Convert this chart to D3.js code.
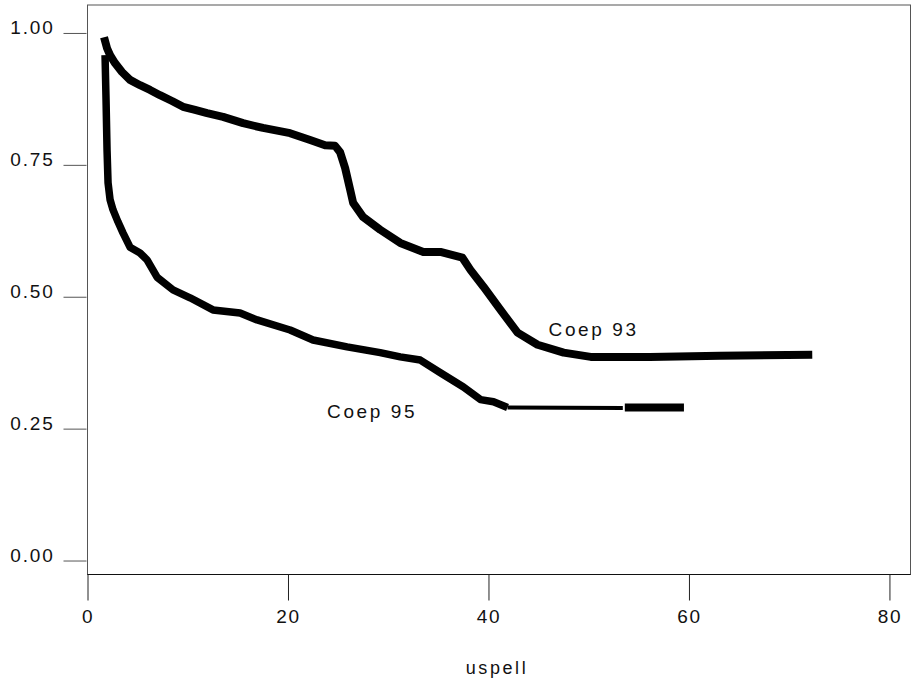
<!DOCTYPE html>
<html>
<head>
<meta charset="utf-8">
<script src="https://cdn.jsdelivr.net/npm/d3@7"></script>
<style>
  body { margin: 0; background: #fff; }
  svg text { font-family: "Liberation Sans", Arial, sans-serif; fill: #111; }
</style>
</head>
<body>
<div id="chart"></div>
<script>
// survival curves: [uspell, share]
const coep93 = [
  [1.65, 0.992], [1.95, 0.971], [2.25, 0.958], [2.74, 0.943], [3.44, 0.926],
  [4.24, 0.911], [5.24, 0.901], [6.24, 0.892], [7.23, 0.882], [8.43, 0.871],
  [9.53, 0.860], [10.73, 0.854], [11.93, 0.848], [13.52, 0.841], [15.52, 0.829],
  [17.51, 0.820], [20.21, 0.810], [22.21, 0.797], [23.7, 0.787], [24.7, 0.786],
  [25.2, 0.774], [25.7, 0.744], [26.2, 0.703], [26.5, 0.678], [27.5, 0.651],
  [29.2, 0.627], [31.2, 0.602], [33.5, 0.585], [35.2, 0.585], [37.4, 0.574],
  [38.2, 0.551], [39.5, 0.519], [41.2, 0.475], [42.9, 0.432], [44.9, 0.409],
  [47.5, 0.394], [50.2, 0.386], [56.1, 0.386], [63.1, 0.388], [72.3, 0.390]
];
const coep95 = [
  [1.75, 0.958], [1.85, 0.873], [1.95, 0.778], [2.05, 0.716], [2.25, 0.684],
  [2.54, 0.665], [3.04, 0.642], [3.54, 0.621], [4.24, 0.594], [5.24, 0.583],
  [5.94, 0.570], [6.94, 0.537], [8.53, 0.513], [10.23, 0.498], [12.52, 0.475],
  [15.22, 0.469], [16.92, 0.456], [20.21, 0.437], [22.5, 0.418], [25.9, 0.405],
  [29.2, 0.394], [31.2, 0.386], [33.2, 0.380], [35.2, 0.356], [37.5, 0.329],
  [39.2, 0.305], [40.5, 0.301], [41.9, 0.290]
];
const coep95Tail = [[41.9, 0.290], [53.4, 0.289]];
const coep95End = [[53.6, 0.290], [59.5, 0.290]];

const xTicks = [0, 20, 40, 60, 80];
const yTicks = [0, 0.25, 0.5, 0.75, 1];
const curveLabels = [
  { text: "Coep 93", x: 46.0, y: 0.426 },
  { text: "Coep 95", x: 23.9, y: 0.270 }
];
const xTitle = "uspell";

const width = 912, height = 686;
const x = d3.scaleLinear().domain([0, 82.1]).range([87.5, 910.5]);
const y = d3.scaleLinear().domain([-0.0265, 1.053]).range([574.5, 5]);

const svg = d3.select("#chart").append("svg")
  .attr("width", width).attr("height", height);

// frame
svg.append("rect")
  .attr("x", x(0)).attr("y", y(1.053))
  .attr("width", x(82.1) - x(0)).attr("height", y(-0.0265) - y(1.053))
  .attr("fill", "none").attr("stroke", "#555").attr("stroke-width", 1);
svg.append("line")
  .attr("x1", x(0)).attr("x2", x(82.1))
  .attr("y1", y(-0.0265)).attr("y2", y(-0.0265))
  .attr("stroke", "#111");

// x axis
const xAxis = svg.append("g")
  .attr("transform", `translate(0,${y(-0.0265)})`)
  .call(d3.axisBottom(x).tickValues(xTicks).tickSize(26).tickPadding(9).tickFormat(d3.format("d")));
xAxis.select(".domain").remove();
xAxis.selectAll(".tick line").attr("stroke", "#222");
xAxis.selectAll(".tick text")
  .style("font-size", "19px").style("letter-spacing", "1.6px").attr("fill", "#111");

// y axis: labels sit on the tick line
const yAxis = svg.append("g")
  .attr("transform", `translate(${x(0) - 1},0)`)
  .call(d3.axisLeft(y).tickValues(yTicks).tickSize(23).tickPadding(10).tickFormat(d3.format(".2f")));
yAxis.select(".domain").remove();
yAxis.selectAll(".tick line").attr("stroke", "#555");
yAxis.selectAll(".tick text")
  .style("font-size", "19px").style("letter-spacing", "1.8px")
  .attr("dy", "0.05em").attr("x", -32).attr("fill", "#111");

const line = d3.line().x(d => x(d[0])).y(d => y(d[1]));

svg.append("path").datum(coep93)
  .attr("d", line).attr("fill", "none").attr("stroke", "#000")
  .attr("stroke-width", 8).attr("stroke-linejoin", "round");
svg.append("path").datum(coep95)
  .attr("d", line).attr("fill", "none").attr("stroke", "#000")
  .attr("stroke-width", 7.5).attr("stroke-linejoin", "round");
svg.append("path").datum(coep95Tail)
  .attr("d", line).attr("fill", "none").attr("stroke", "#000")
  .attr("stroke-width", 4);
svg.append("path").datum(coep95End)
  .attr("d", line).attr("fill", "none").attr("stroke", "#000")
  .attr("stroke-width", 8);

svg.selectAll(".curve-label")
  .data(curveLabels)
  .join("text")
  .attr("class", "curve-label")
  .attr("x", d => x(d.x)).attr("y", d => y(d.y))
  .style("font-size", "19px").style("letter-spacing", "2.6px")
  .text(d => d.text);

svg.append("text")
  .attr("x", 497).attr("y", 674)
  .attr("text-anchor", "middle")
  .style("font-size", "18px").style("letter-spacing", "2.6px")
  .text(xTitle);
</script>
</body>
</html>
